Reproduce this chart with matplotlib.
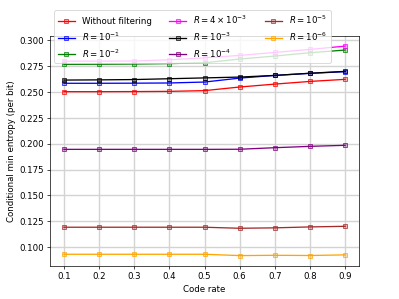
import matplotlib
matplotlib.use('Agg')
import matplotlib.pyplot as plt
from matplotlib.colors import to_rgba

# code rates on x axis
code_rate = [0.1, 0.2, 0.3, 0.4, 0.5, 0.6, 0.7, 0.8, 0.9]

# conditional min entropy for each filter setting
no_filter = [0.2502, 0.2502, 0.2503, 0.2505, 0.2512, 0.2547, 0.2575, 0.2601, 0.2621]
r_1e1 = [0.2583, 0.2583, 0.2584, 0.2586, 0.2595, 0.2633, 0.2659, 0.2679, 0.2695]
r_1e2 = [0.2766, 0.2767, 0.2769, 0.2773, 0.2781, 0.2817, 0.2846, 0.2878, 0.2904]
r_4e3 = [0.2797, 0.2797, 0.2798, 0.2810, 0.2829, 0.2852, 0.2881, 0.2910, 0.2942]
r_1e3 = [0.2614, 0.2616, 0.2619, 0.2627, 0.2635, 0.2643, 0.2659, 0.2680, 0.2698]
r_1e4 = [0.1945, 0.1945, 0.1945, 0.1945, 0.1945, 0.1946, 0.1961, 0.1974, 0.1984]
r_1e5 = [0.1193, 0.1193, 0.1193, 0.1193, 0.1193, 0.1183, 0.1187, 0.1196, 0.1202]
r_1e6 = [0.0932, 0.0932, 0.0932, 0.0932, 0.0932, 0.0919, 0.0922, 0.0920, 0.0926]

series = [
    (no_filter, 'red', 'Without filtering'),
    (r_1e1, 'blue', r'$R=10^{-1}$'),
    (r_1e2, 'green', r'$R=10^{-2}$'),
    (r_4e3, 'magenta', r'$R=4\times10^{-3}$'),
    (r_1e3, 'black', r'$R=10^{-3}$'),
    (r_1e4, 'purple', r'$R=10^{-4}$'),
    (r_1e5, 'brown', r'$R=10^{-5}$'),
    (r_1e6, 'orange', r'$R=10^{-6}$'),
]

fig = plt.figure(figsize=(6.4, 4.8), dpi=62.35)
ax = fig.add_subplot(111)

for vals, c, lab in series:
    ax.plot(code_rate, vals, marker='s', color=c, label=lab, markersize=4.5,
            markeredgewidth=1.0, markerfacecolor=to_rgba(c, 0.3),
            markeredgecolor=to_rgba(c, 0.8))

ax.grid(True, color='#d3d3d3', linewidth=1.6)
ax.set_axisbelow(True)
ax.set_xticks(code_rate)
ax.set_xlabel('Code rate')
ax.set_ylabel('Conditional min entropy (per bit)')
ax.legend(ncol=3, loc='upper left', bbox_to_anchor=(0, 1.13))

plt.savefig('out.png', dpi=62.35)
plt.close()
